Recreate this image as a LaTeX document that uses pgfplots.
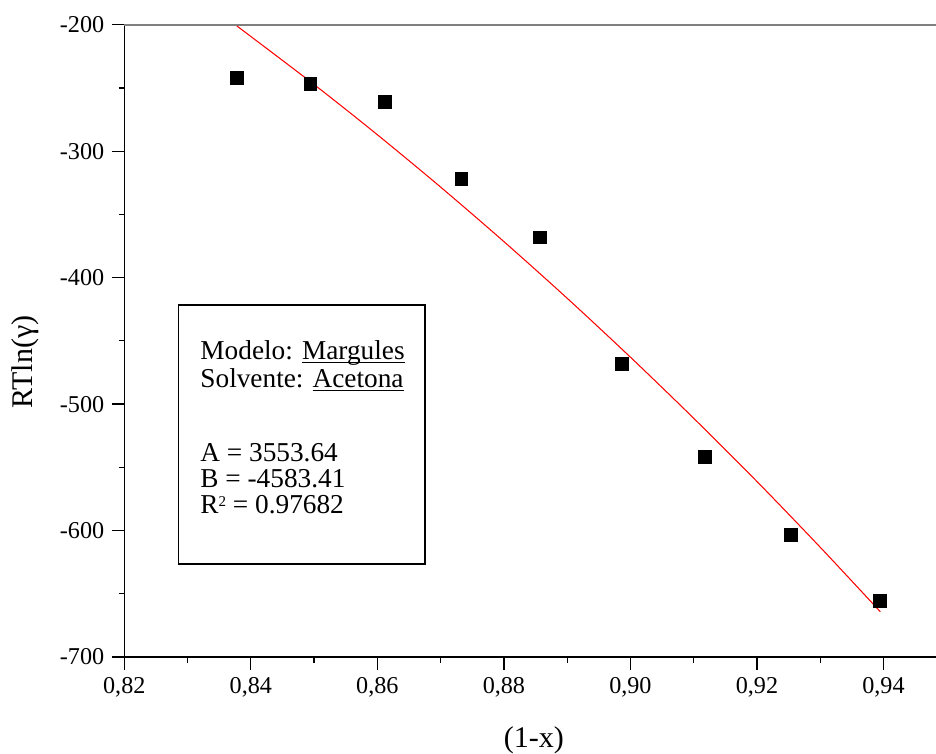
\documentclass[border=0pt]{standalone}
\usepackage{pgfplots}
\pgfplotsset{compat=1.18}
\usepackage{fontspec}
\setmainfont{Liberation Serif}
\newcommand\ul[1]{\underline{\smash{#1}}}
\newcommand\lines[2]{\vtop{\baselineskip=#1\lineskiplimit=-\maxdimen\lineskip=0pt #2}}
\begin{document}
\begin{tikzpicture}
\begin{axis}[
  scale only axis, width=389.6pt, height=303.5pt,
  xmin=0.82, xmax=0.9483, ymin=-700, ymax=-200,
  axis x line*=bottom, axis y line*=left,
  axis line style={line width=0.6pt, black},
  xtick={0.82,0.84,0.86,0.88,0.90,0.92,0.94},
  xticklabels={{0,82},{0,84},{0,86},{0,88},{0,90},{0,92},{0,94}},
  minor xtick={0.83,0.85,0.87,0.89,0.91,0.93},
  ytick={-700,-600,-500,-400,-300,-200},
  yticklabels={-700,-600,-500,-400,-300,-200},
  minor ytick={-650,-550,-450,-350,-250},
  tick align=outside,
  major tick length=6.1pt, minor tick length=2.7pt,
  tick style={line width=0.6pt, black},
  ticklabel style={font=\fontsize{11.6}{13}\selectfont},
  xlabel={(1-x)}, ylabel={RTln(γ)},
  label style={font=\fontsize{14.4}{16}\selectfont},
  xlabel style={at={(axis description cs:0.5047,-0.13127)}, anchor=center},
  ylabel style={at={(axis description cs:-0.12166,0.4666)}, anchor=center},
  clip=false,
]
\draw[gray, line width=0.8pt] (rel axis cs:0,1) -- (rel axis cs:1,1);
\addplot[only marks, mark=square*, mark size=3.05pt, black] coordinates {
  (0.8378,-241.9) (0.8494,-246.7) (0.8612,-261.1) (0.8733,-321.8)
  (0.8857,-368.1) (0.8986,-468.1) (0.9118,-541.6) (0.9254,-603.3)
  (0.9394,-655.5)
};
\addplot[red, line width=0.5pt, no marks, smooth] coordinates {
  (0.8378,-201.0) (0.85,-247.3) (0.86,-287.0) (0.87,-328.4) (0.88,-371.5)
  (0.89,-416.3) (0.90,-462.9) (0.91,-511.2) (0.92,-561.2) (0.93,-613.2)
  (0.9395,-664.2)
};
\draw[line width=0.6pt] (axis cs:0.82854,-421.6) rectangle (axis cs:0.86754,-626.5);
\begin{scope}[every node/.style={anchor=base west, inner sep=0pt, font=\fontsize{13.1}{15}\selectfont}]
\node at (axis cs:0.83197,-464.6) {\lines{13.3pt}{\hbox{Modelo: \ul{Margules}}\hbox{Solvente: \ul{Acetona}}}};
\node at (axis cs:0.83197,-545.6) {\lines{12.4pt}{\hbox{A = 3553.64}\hbox{B = -4583.41}\hbox{R\raisebox{3.4pt}{\fontsize{7.2}{7.5}\selectfont 2} = 0.97682}}};
\end{scope}
\end{axis}
\pgfresetboundingbox
\path[use as bounding box] ([shift={(-59.66pt,-46.08pt)}]current axis.south west) rectangle ([shift={(0pt,11.86pt)}]current axis.north east);
\end{tikzpicture}
\end{document}
